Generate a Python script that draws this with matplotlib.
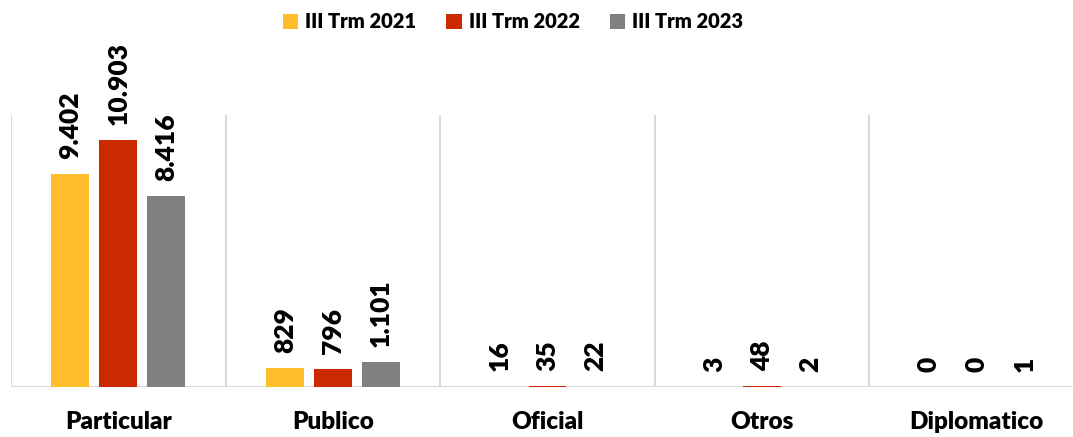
import matplotlib
matplotlib.use("Agg")
import matplotlib.pyplot as plt
import numpy as np

categories = ["Particular", "Publico", "Oficial", "Otros", "Diplomatico"]
series_names = ["III Trm 2021", "III Trm 2022", "III Trm 2023"]
v2021 = [9402, 829, 16, 3, 0]
v2022 = [10903, 796, 35, 48, 0]
v2023 = [8416, 1101, 22, 2, 1]
colors = ["#FFBE2A", "#CC2900", "#808080"]

def fmt(v):
    return f"{v:,}".replace(",", ".")

plt.rcParams['font.family'] = ['Lato', 'DejaVu Sans']

fig = plt.figure(figsize=(10.73, 4.37), dpi=100)
ax = fig.add_axes([11/1073, 50/437, 1073/1073, 272/437])

x = np.arange(len(categories))
bw = 38/214.7
step = 48/214.7
for i, (vals, name, c) in enumerate(zip([v2021, v2022, v2023], series_names, colors)):
    pos = x + (i - 1) * step
    ax.bar(pos, vals, width=bw, color=c, label=name, zorder=3)
    for p, v in zip(pos, vals):
        ax.annotate(fmt(v), (p, v), xytext=(0, 11), textcoords='offset points',
                    rotation=90, ha='center', va='bottom', fontsize=19,
                    fontweight='heavy', color='black', zorder=4)

ax.set_xlim(-0.5, len(categories) - 0.5)
ax.set_ylim(0, 12000)
for b in np.arange(-0.5, len(categories), 1.0):
    ax.axvline(b, color='#D9D9D9', lw=1.5, zorder=1)
ax.axhline(0, color='#D9D9D9', lw=1.5, zorder=2)
for s in ax.spines.values():
    s.set_visible(False)
ax.set_yticks([])
ax.set_xticks(x)
ax.set_xticklabels(categories, fontsize=17.5, fontweight='heavy')
ax.tick_params(axis='x', length=0, pad=17)

fig.legend(loc='center', bbox_to_anchor=(513/1073, 1 - 22/437), ncol=3, frameon=False,
           prop={'size': 14.5, 'weight': 'heavy'}, handlelength=0.75, handleheight=0.75,
           handletextpad=0.35, columnspacing=1.5)

fig.savefig("out.png", dpi=100)
